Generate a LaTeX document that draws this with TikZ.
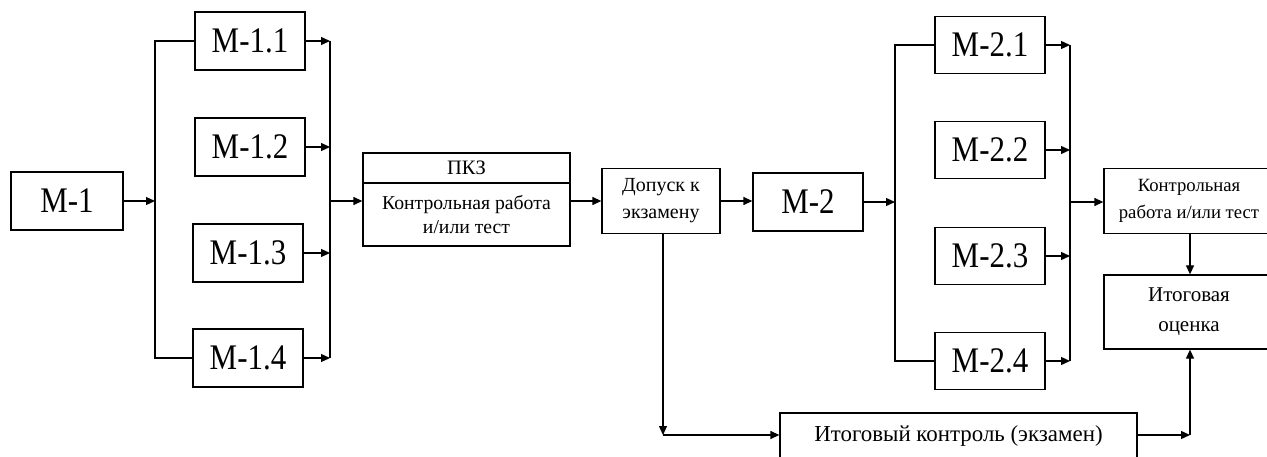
\documentclass[tikz,border=0pt]{standalone}
\usepackage{fontspec}
\setmainfont{Liberation Serif}
\newfontfamily\narrowserif[FakeStretch=0.86]{Liberation Serif}
\usetikzlibrary{arrows.meta}
\tikzset{
  box/.style={draw, line width=1.3pt, inner sep=0pt, align=center},
  big/.style={box, font=\narrowserif\fontsize{36}{38}\selectfont},
  ln/.style={line width=1.3pt},
  arr/.style={ln, -{Triangle[length=9pt,width=8pt]}},
}
\begin{document}
\begin{tikzpicture}[x=1pt,y=-1pt]
\clip (0,0) rectangle (1267,457);
\fill[white] (0,0) rectangle (1267,457);
% modules 1
\node[big, minimum width=112, minimum height=58] (m1) at (67,201) {M-1};
\node[big, minimum width=110, minimum height=58] (m11) at (250,41) {M-1.1};
\node[big, minimum width=110, minimum height=58] (m12) at (250,147) {M-1.2};
\node[big, minimum width=110, minimum height=58] (m13) at (248,253) {M-1.3};
\node[big, minimum width=110, minimum height=58] (m14) at (248,358) {M-1.4};
\coordinate (b1t) at (155,41);
\coordinate (b1m) at (155,201);
\coordinate (b1b) at (155,358);
\coordinate (c1t) at (330,41);
\coordinate (c1m) at (330,201);
\coordinate (c1b) at (330,358);
% PKZ
\node[box, minimum width=207, minimum height=93] (pkz) at (466.5,199.5) {};
\draw[ln] (pkz.west |- 0,183) -- (pkz.east |- 0,183);
\node[font=\fontsize{20.5}{24}\selectfont] (pkzt) at (466.5,168) {ПКЗ};
\node[align=center, font=\fontsize{19.7}{24}\selectfont] (pkzb) at (466.5,215) {Контрольная работа\\и/или тест};
% dopusk
\node[box, minimum width=118, minimum height=65, font=\fontsize{20}{27}\selectfont] (dop) at (661,201) {Допуск к\\экзамену};
% modules 2
\node[big, minimum width=110, minimum height=58] (m2) at (808,202) {M-2};
\node[big, minimum width=110, minimum height=57] (m21) at (990,45) {M-2.1};
\node[big, minimum width=110, minimum height=57] (m22) at (990,150) {M-2.2};
\node[big, minimum width=110, minimum height=57] (m23) at (990,256) {M-2.3};
\node[big, minimum width=110, minimum height=57] (m24) at (990,361) {M-2.4};
\coordinate (b2t) at (895,45);
\coordinate (b2m) at (895,202);
\coordinate (b2b) at (895,361);
\coordinate (c2t) at (1070,45);
\coordinate (c2m) at (1070,202);
\coordinate (c2b) at (1070,361);
% right boxes
\node[box, minimum width=170, minimum height=65, font=\fontsize{18.7}{27}\selectfont] (kr) at (1189,201) {Контрольная\\работа и/или тест};
\node[box, minimum width=170, minimum height=74, font=\fontsize{21}{30}\selectfont] (ito) at (1189,312) {Итоговая\\оценка};
\node[box, minimum width=357, minimum height=46, font=\fontsize{22.9}{26}\selectfont] (ik) at (958.5,436) {Итоговый контроль (экзамен)};
\coordinate (corner1) at (663,435);
\coordinate (corner2) at (1190,435);
% connectors stage 1
\draw[arr] (m1.east) -- (b1m);
\draw[ln] (m11.west) -- (b1t) -- (b1b) -- (m14.west);
\draw[arr] (m11.east) -- (c1t);
\draw[arr] (m12.east) -- (c1t |- m12);
\draw[arr] (m13.east) -- (c1t |- m13);
\draw[arr] (m14.east) -- (c1b);
\draw[ln] (c1t) -- (c1b);
\draw[arr] (c1m) -- (pkz.west |- c1m);
\draw[arr] (pkz.east |- dop) -- (dop.west);
\draw[arr] (dop.east) -- (m2.west |- dop);
% stage 2
\draw[arr] (m2.east) -- (b2m);
\draw[ln] (m21.west) -- (b2t) -- (b2b) -- (m24.west);
\draw[arr] (m21.east) -- (c2t);
\draw[arr] (m22.east) -- (c2t |- m22);
\draw[arr] (m23.east) -- (c2t |- m23);
\draw[arr] (m24.east) -- (c2b);
\draw[ln] (c2t) -- (c2b);
\draw[arr] (c2m) -- (kr.west |- c2m);
\draw[arr] (kr.south -| corner2) -- (ito.north -| corner2);
% exam branch
\draw[arr] (dop.south -| corner1) -- (corner1);
\draw[arr] (corner1) -- (ik.west |- corner1);
\draw[arr] (ik.east |- corner2) -- (corner2);
\draw[arr] (corner2) -- (ito.south -| corner2);
\end{tikzpicture}
\end{document}
